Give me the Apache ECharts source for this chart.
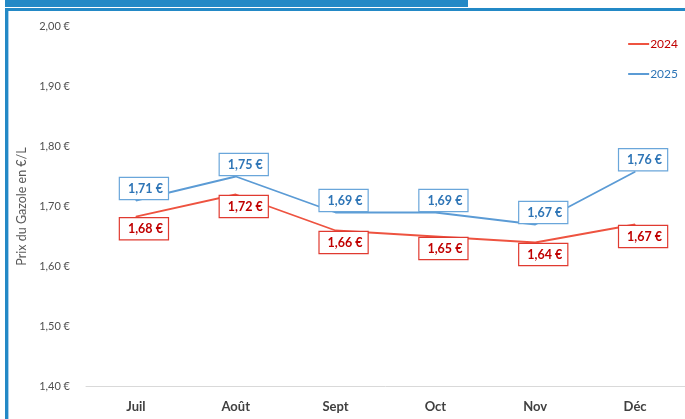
<!DOCTYPE html>
<html>
<head>
<meta charset="utf-8">
<script src="https://cdn.jsdelivr.net/npm/echarts@6/dist/echarts.min.js"></script>
<style>
html,body{margin:0;padding:0;background:#fff;}
#chart{width:685px;height:419px;}
</style>
</head>
<body>
<div id="chart"></div>
<script>
const months = ['Juil', 'Août', 'Sept', 'Oct', 'Nov', 'Déc'];
const prix2024 = [1.683, 1.72, 1.66, 1.65, 1.64, 1.67];
const prix2025 = [1.71, 1.75, 1.69, 1.69, 1.67, 1.758];
const yMin = 1.4, yMax = 2.0, yStep = 0.1;

const FONT = 'Lato, "Open Sans", sans-serif';
const fmtEuro = v => v.toFixed(2).replace('.', ',') + ' €';

const chart = echarts.init(document.getElementById('chart'));

function labelStyle(pos, textColor, borderColor) {
  return {
    show: true,
    position: pos,
    distance: 1,
    offset: [8, 0],
    formatter: p => fmtEuro(Math.round(p.value * 100) / 100),
    color: textColor,
    fontFamily: FONT,
    fontWeight: 'bold',
    fontSize: 12.5,
    backgroundColor: '#fff',
    borderColor: borderColor,
    borderWidth: 1.2,
    padding: [4, 5, 4, 8]
  };
}

chart.setOption({
  animation: false,
  backgroundColor: '#fff',
  grid: { left: 86, top: 26.5, width: 603, height: 360, containLabel: false },
  legend: {
    orient: 'vertical',
    right: 2,
    top: 33,
    itemGap: 18,
    itemWidth: 21,
    itemHeight: 2,
    icon: 'rect',
    textStyle: { fontFamily: FONT, fontSize: 12, padding: [0, 0, 0, -4] },
    data: [
      { name: '2024', textStyle: { color: '#C00000' } },
      { name: '2025', textStyle: { color: '#2E75B6' } }
    ]
  },
  xAxis: {
    type: 'category',
    data: months,
    boundaryGap: true,
    axisLine: { show: true, lineStyle: { color: '#D9D9D9', width: 1 } },
    axisTick: { show: false },
    axisLabel: { color: '#404040', fontFamily: FONT, fontWeight: 'bold', fontSize: 13, margin: 14 }
  },
  yAxis: {
    type: 'value',
    min: yMin,
    max: yMax,
    interval: yStep,
    name: 'Prix du Gazole en €/L',
    nameLocation: 'middle',
    nameGap: 58,
    nameTextStyle: { color: '#595959', fontFamily: FONT, fontSize: 12.5 },
    axisLine: { show: false },
    axisTick: { show: false },
    splitLine: { show: false },
    axisLabel: {
      color: '#505050', fontFamily: FONT, fontSize: 11, margin: 16,
      formatter: v => fmtEuro(v)
    }
  },
  series: [
    {
      name: '2024',
      type: 'line',
      data: prix2024,
      symbol: 'circle',
      symbolSize: 1,
      showSymbol: true,
      itemStyle: { color: '#EE5340' },
      lineStyle: { color: '#EE5340', width: 1.8 },
      label: labelStyle('bottom', '#C00000', '#E03A30'),
      z: 3
    },
    {
      name: '2025',
      type: 'line',
      data: prix2025,
      symbol: 'circle',
      symbolSize: 1,
      showSymbol: true,
      itemStyle: { color: '#5B9BD5' },
      lineStyle: { color: '#5B9BD5', width: 1.8 },
      label: labelStyle('top', '#2E75B6', '#6AA6DA'),
      z: 4
    }
  ],
  graphic: [
    { type: 'rect', left: 5, top: 0, shape: { width: 463, height: 7 }, style: { fill: '#2389C6' }, silent: true },
    { type: 'rect', left: 5, top: 8, shape: { width: 680, height: 3 }, style: { fill: '#2389C6' }, silent: true },
    { type: 'rect', left: 5, top: 8, shape: { width: 3, height: 411 }, style: { fill: '#2389C6' }, silent: true },
    { type: 'rect', left: 8, top: 11, shape: { width: 1, height: 408 }, style: { fill: '#A9D0EC' }, silent: true }
  ]
});
</script>
</body>
</html>
